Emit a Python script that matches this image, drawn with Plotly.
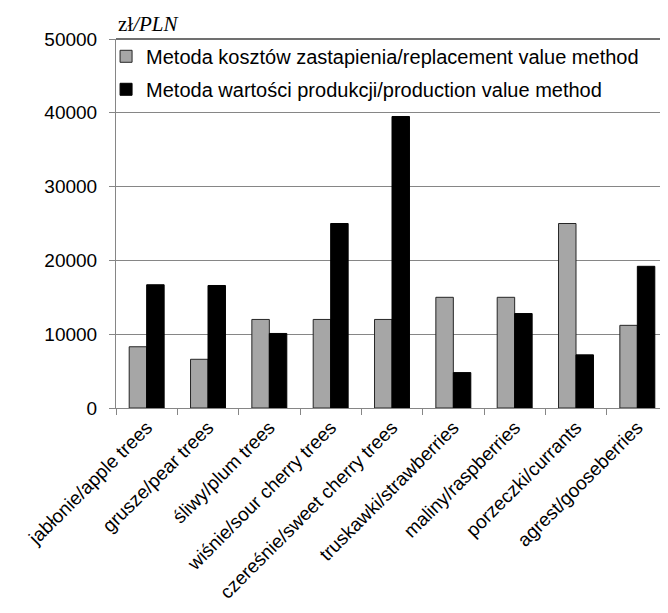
import plotly.graph_objects as go

categories = [
    "jabłonie/apple trees",
    "grusze/pear trees",
    "śliwy/plum trees",
    "wiśnie/sour cherry trees",
    "czereśnie/sweet cherry trees",
    "truskawki/strawberries",
    "maliny/raspberries",
    "porzeczki/currants",
    "agrest/gooseberries",
]
replacement_values = [8300, 6600, 12000, 12000, 12000, 15000, 15000, 25000, 11200]
production_values = [16700, 16600, 10100, 25000, 39500, 4800, 12800, 7200, 19200]

name_replacement = "Metoda kosztów zastapienia/replacement value method"
name_production = "Metoda wartości produkcji/production value method"
y_ticks = [0, 10000, 20000, 30000, 40000, 50000]
unit_label = "zł<i>/PLN</i>"

FONT = "Liberation Sans, Arial, sans-serif"

fig = go.Figure()
fig.add_trace(go.Bar(
    x=categories, y=replacement_values, name=name_replacement,
    marker=dict(color="#a6a6a6", line=dict(color="#262626", width=1)),
    legendgroup="a",
))
fig.add_trace(go.Bar(
    x=categories, y=production_values, name=name_production,
    marker=dict(color="#000000", line=dict(color="#000000", width=1)),
    legendgroup="b",
))

# page body has an 8px default margin, so the figure is offset by 8px
fig.update_layout(
    width=660, height=605,
    margin=dict(l=108, r=0, t=31, b=205, autoexpand=False),
    paper_bgcolor="white", plot_bgcolor="white",
    barmode="group", bargap=0.43, bargroupgap=0,
    font=dict(family=FONT, size=19, color="black"),
    showlegend=True,
    legend=dict(
        x=-0.018, y=1.006, xanchor="left", yanchor="top",
        bgcolor="rgba(0,0,0,0)", font=dict(family=FONT, size=20, color="black"),
        tracegroupgap=4, itemwidth=30,
    ),
    xaxis=dict(
        type="category", tickangle=-45, tickson="boundaries",
        ticks="outside", ticklen=6, tickcolor="#868686",
        showline=True, linecolor="#868686", linewidth=1,
        tickfont=dict(family=FONT, size=19, color="black"),
        showgrid=False, range=[-0.5, 8.5], automargin=False,
    ),
    yaxis=dict(
        range=[0, 50000], tickvals=y_ticks, ticktext=[str(v) for v in y_ticks],
        ticks="outside", ticklen=6, tickcolor="#868686",
        showline=True, linecolor="#868686", linewidth=1,
        showgrid=True, gridcolor="#868686", gridwidth=1,
        zeroline=False, automargin=False, ticklabelstandoff=8,
        tickfont=dict(family=FONT, size=19, color="black"),
    ),
    annotations=[dict(
        text=unit_label, xref="paper", yref="paper", x=0, y=1,
        xanchor="left", yanchor="bottom", yshift=1, xshift=0, showarrow=False,
        font=dict(family="Liberation Serif, Times New Roman, serif", size=21, color="black"),
    )],
    shapes=[dict(type="line", xref="paper", yref="paper", x0=0, x1=1, y0=1, y1=1,
                 line=dict(color="#404040", width=1.5))],
)

fig.write_html("out.html")
